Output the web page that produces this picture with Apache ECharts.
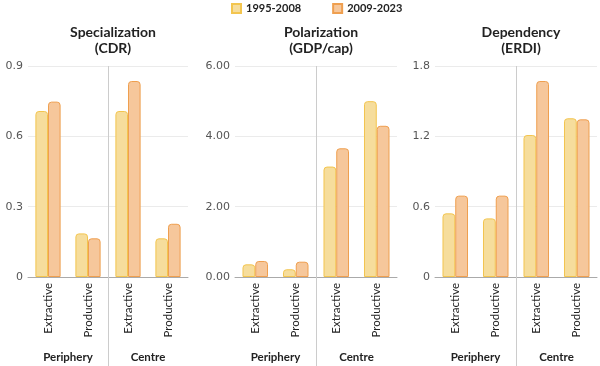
<!DOCTYPE html>
<html><head><meta charset="utf-8">
<script src="https://cdn.jsdelivr.net/npm/echarts@6/dist/echarts.min.js"></script>
<style>html,body{margin:0;padding:0;background:#fff}#c{width:600px;height:366px}</style>
</head><body><div id="c"></div>
<script>
const categories = ['Extractive', 'Productive', 'Extractive', 'Productive'];
const groups = ['Periphery', 'Centre'];
const seriesNames = ['1995-2008', '2009-2023'];
const panelTitles = ['Specialization\n(CDR)', 'Polarization\n(GDP/cap)', 'Dependency\n(ERDI)'];
const cdr1 = [0.708, 0.186, 0.708, 0.165];
const cdr2 = [0.748, 0.165, 0.836, 0.227];
const gdp1 = [0.36, 0.22, 3.14, 5.00];
const gdp2 = [0.455, 0.435, 3.66, 4.30];
const erdi1 = [0.543, 0.50, 1.211, 1.354];
const erdi2 = [0.694, 0.694, 1.672, 1.345];
const yMax = [0.9, 6, 1.8];
const yInterval = [0.3, 2, 0.6];
const yDecimals = [-1, 2, -1];

const data1 = [cdr1, gdp1, erdi1];
const data2 = [cdr2, gdp2, erdi2];
const grids = [{left: 28, width: 160}, {left: 235, width: 162}, {left: 435, width: 162}];
const SANS = 'Lato';
const TICKF = 'DejaVu Sans';
const fills = ['#f6dd9c', '#f6c79b'];
const borders = ['#f3c54f', '#ef9f4f'];

const option = {
  animation: false,
  textStyle: {fontFamily: SANS},
  legend: {
    top: 0, left: 226, padding: [3, 5, 3, 5], itemWidth: 9, itemHeight: 9, itemGap: 31, icon: 'rect',
    textStyle: {fontFamily: SANS, fontWeight: 'bold', fontSize: 11, color: '#222'},
    data: seriesNames
  },
  title: [], grid: [], xAxis: [], yAxis: [], series: []
};

for (let i = 0; i < 3; i++) {
  const g = grids[i];
  option.grid.push({left: g.left, width: g.width, top: 66, bottom: 89});
  option.title.push({
    text: panelTitles[i], left: g.left + g.width / 2, top: 19, textAlign: 'center',
    textStyle: {fontFamily: SANS, fontWeight: 'bold', fontSize: 14, lineHeight: 16, color: '#222'}
  });
  // category axis (bars)
  option.xAxis.push({
    type: 'category', gridIndex: i, data: categories,
    axisLine: {lineStyle: {color: '#aaa', width: 1}},
    axisTick: {show: false},
    splitLine: {show: false},
    axisLabel: {rotate: 90, margin: 6, fontSize: 11.5, color: '#222', fontFamily: SANS, interval: 0}
  });
  // group axis
  option.xAxis.push({
    type: 'category', gridIndex: i, data: groups, position: 'bottom', offset: 66,
    axisLine: {show: false}, axisTick: {show: false},
    axisLabel: {fontSize: 11.5, fontWeight: 'bold', color: '#222', fontFamily: SANS, interval: 0}
  });
  // divider axis: value axis spanning the 4 categories, line at the middle only
  option.xAxis.push({
    type: 'value', gridIndex: i, min: 0, max: categories.length,
    position: 'bottom',
    axisLine: {show: false}, axisLabel: {show: false},
    axisTick: {show: true, customValues: [categories.length / 2], length: 89,
      lineStyle: {color: '#ccc'}},
    splitLine: {show: true, lineStyle: {color: '#ccc'}}
  });
  const dec = yDecimals[i];
  option.yAxis.push({
    type: 'value', gridIndex: i, min: 0, max: yMax[i], interval: yInterval[i],
    axisLine: {show: false}, axisTick: {show: false},
    splitLine: {lineStyle: {color: '#ebebeb'}},
    axisLabel: {fontSize: 11, color: '#555', fontFamily: TICKF, margin: 5,
      formatter: v => dec > 0 ? v.toFixed(dec) : String(+v.toFixed(2))}
  });
  [data1[i], data2[i]].forEach((d, k) => {
    option.series.push({
      name: seriesNames[k], type: 'bar', xAxisIndex: i * 3, yAxisIndex: i, data: d,
      barGap: '0%', barCategoryGap: '37%',
      itemStyle: {color: fills[k], borderColor: borders[k], borderWidth: 1, borderRadius: [3, 3, 0, 0]}
    });
  });
}

const chart = echarts.init(document.getElementById('c'), null, {renderer: 'canvas'});
chart.setOption(option);
</script></body></html>
